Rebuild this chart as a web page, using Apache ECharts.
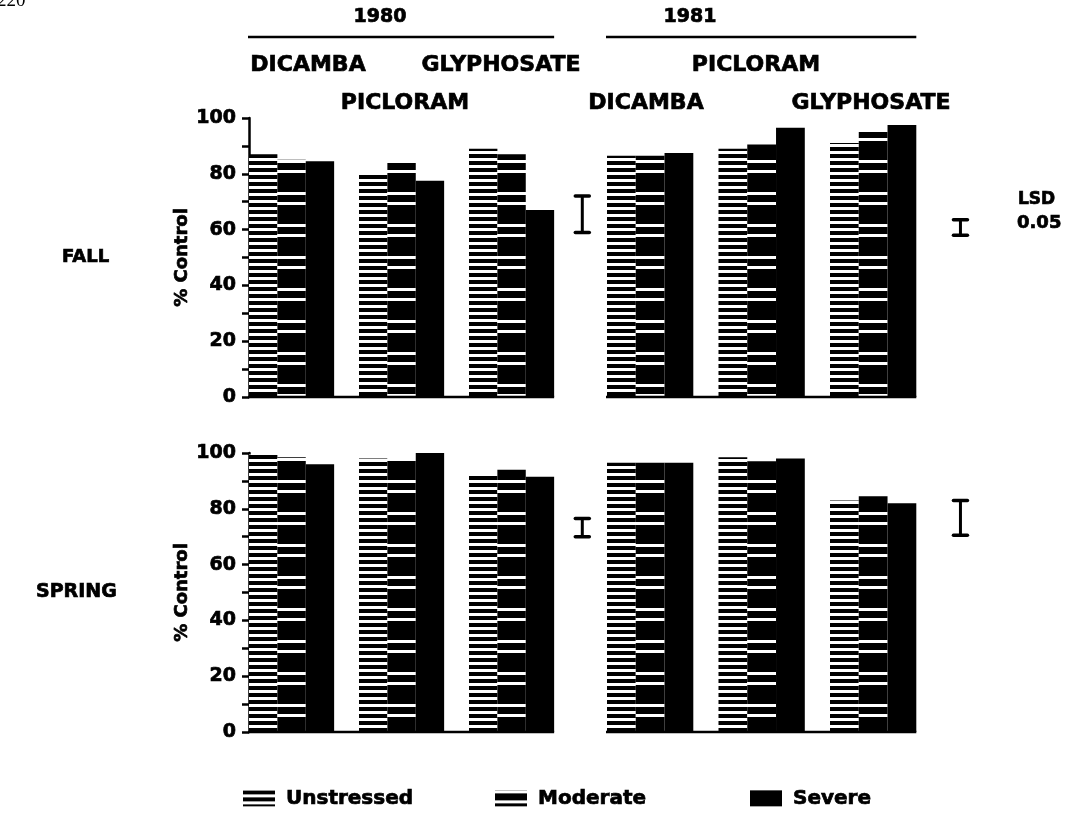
<!DOCTYPE html>
<html>
<head>
<meta charset="utf-8">
<script src="https://cdn.jsdelivr.net/npm/echarts@6/dist/echarts.min.js"></script>
<style>
  html, body { margin: 0; padding: 0; background: #fff; }
  #chart { width: 1065px; height: 820px; }
</style>
</head>
<body>
<div id="chart"></div>
<script>
// ---- Data -------------------------------------------------------------
const herbicides = ['DICAMBA', 'PICLORAM', 'GLYPHOSATE'];
const years = ['1980', '1981'];
const seasons = ['FALL', 'SPRING'];
const treatments = ['Unstressed', 'Moderate', 'Severe'];
const yTicks = [0, 10, 20, 30, 40, 50, 60, 70, 80, 90, 100];

// % Control, ordered as in `herbicides`
const fall1980Unstressed = [87, 80, 89];
const fall1980Moderate   = [85, 84, 87];
const fall1980Severe     = [84.5, 77.5, 67];
const fall1981Unstressed = [86.5, 89, 91];
const fall1981Moderate   = [86.5, 90.5, 95];
const fall1981Severe     = [87.5, 96.5, 97.5];

const spring1980Unstressed = [99.5, 98, 92.5];
const spring1980Moderate   = [98.5, 98, 94];
const spring1980Severe     = [96, 100, 91.5];
const spring1981Unstressed = [96.5, 98.5, 83];
const spring1981Moderate   = [96.5, 97, 84.5];
const spring1981Severe     = [96.5, 98, 82];

// LSD (0.05) interval drawn beside each year block: [low, high]
const lsdFall   = [[59, 72], [58, 63.5]];
const lsdSpring = [[70, 76.5], [70.5, 83]];

// ---- Layout -----------------------------------------------------------
const FONT = '"DejaVu Sans", "Liberation Sans", Arial, sans-serif';
const HEAVY = 0.7;              // outline width that thickens the bold face
const BAR_W = 0.258;            // bar width in herbicide-slot units
const X_MAX = 3.3;
const yearLeft = [249, 607];
const yearUnitPx = [110, 111.5];
const yearLsdX = [3.03, 3.17];
const seasonTop = [118, 453];
const PLOT_H = 279;

const values = {
  FALL:   [[fall1980Unstressed, fall1980Moderate, fall1980Severe],
           [fall1981Unstressed, fall1981Moderate, fall1981Severe]],
  SPRING: [[spring1980Unstressed, spring1980Moderate, spring1980Severe],
           [spring1981Unstressed, spring1981Moderate, spring1981Severe]]
};
const lsd = { FALL: lsdFall, SPRING: lsdSpring };

// ---- Fill patterns ----------------------------------------------------
function stripePattern(bg, fg, period, bands) {
  const c = document.createElement('canvas');
  c.width = 8; c.height = period;
  const ctx = c.getContext('2d');
  ctx.fillStyle = bg; ctx.fillRect(0, 0, 8, period);
  ctx.fillStyle = fg;
  bands.forEach(([y, h]) => ctx.fillRect(0, y, 8, h));
  return { image: c, repeat: 'repeat' };
}
const patterns = [
  stripePattern('#fff', '#000', 7, [[0, 4]]),            // Unstressed
  stripePattern('#000', '#fff', 32, [[0, 3], [10, 3]]),  // Moderate
  '#000'                                                 // Severe
];

const heavyText = (size) => ({
  fontFamily: FONT, fontWeight: 'bold', fontSize: size, color: '#000',
  textBorderColor: '#000', textBorderWidth: HEAVY
});

// ---- Build grids, axes, series ---------------------------------------
const grid = [], xAxis = [], yAxis = [], series = [];
seasons.forEach((season, si) => {
  years.forEach((year, yi) => {
    const idx = grid.length;
    grid.push({
      left: yearLeft[yi], top: seasonTop[si],
      width: X_MAX * yearUnitPx[yi], height: PLOT_H
    });
    xAxis.push({ gridIndex: idx, type: 'value', min: 0, max: X_MAX, show: false });
    if (yi === 0) {
      yAxis.push({
        gridIndex: idx, type: 'value', min: 0, max: 100, interval: 10,
        axisLine: { show: true, lineStyle: { color: '#000', width: 2.5 } },
        axisTick: { show: true, length: 7, lineStyle: { color: '#000', width: 2.5 } },
        axisLabel: Object.assign({
          formatter: v => (v % 20 === 0 ? String(v) : ''), margin: 13
        }, heavyText(19)),
        splitLine: { show: false },
        name: '% Control', nameLocation: 'middle', nameGap: 54,
        nameTextStyle: heavyText(18)
      });
    } else {
      yAxis.push({ gridIndex: idx, type: 'value', min: 0, max: 100, show: false });
    }

    treatments.forEach((t, k) => {
      series.push({
        type: 'custom', name: t, xAxisIndex: idx, yAxisIndex: idx,
        itemStyle: { color: patterns[k] },
        data: herbicides.map((h, i) => [i, values[season][yi][k][i]]),
        encode: { x: 0, y: 1 },
        renderItem: (params, api) => {
          const i = api.value(0), v = api.value(1);
          const p0 = api.coord([i + k * BAR_W, v]);
          const p1 = api.coord([i + (k + 1) * BAR_W, 0]);
          return {
            type: 'rect',
            shape: { x: p0[0], y: p0[1], width: p1[0] - p0[0], height: p1[1] - p0[1] },
            style: { fill: patterns[k] }
          };
        },
        z: 2 + k
      });
    });

    // baseline under each year block
    series.push({
      type: 'custom', xAxisIndex: idx, yAxisIndex: idx, silent: true,
      data: [[0, 0]],
      renderItem: (params, api) => {
        const a = api.coord([0, 0]);
        const b = api.coord([herbicides.length - 1 + 3 * BAR_W, 0]);
        return { type: 'line', shape: { x1: a[0] - 1, y1: a[1], x2: b[0], y2: b[1] },
                 style: { stroke: '#000', lineWidth: 2.5 } };
      },
      z: 6
    });

    // LSD bar
    series.push({
      type: 'custom', xAxisIndex: idx, yAxisIndex: idx, silent: true,
      data: [[yearLsdX[yi], lsd[season][yi][0], lsd[season][yi][1]]],
      encode: { x: 0, y: [1, 2] },
      renderItem: (params, api) => {
        const top = api.coord([api.value(0), api.value(2)]);
        const bot = api.coord([api.value(0), api.value(1)]);
        const cap = 7;
        const st = { stroke: '#000', lineWidth: 3.5, lineCap: 'round' };
        return {
          type: 'group', children: [
            { type: 'line', shape: { x1: top[0], y1: top[1], x2: bot[0], y2: bot[1] },
              style: { stroke: '#000', lineWidth: 3 } },
            { type: 'line', shape: { x1: top[0] - cap, y1: top[1], x2: top[0] + cap, y2: top[1] }, style: st },
            { type: 'line', shape: { x1: bot[0] - cap, y1: bot[1], x2: bot[0] + cap, y2: bot[1] }, style: st }
          ]
        };
      },
      z: 6
    });
  });
});

// ---- Text and rules around the plot ----------------------------------
const boldText = (text, x, y, size, align) => ({
  type: 'text', x, y,
  style: { text, fill: '#000', stroke: '#000', lineWidth: HEAVY,
           font: `bold ${size}px ${FONT}`,
           textAlign: align || 'center', textVerticalAlign: 'middle' }
});

const headerX = [380, 690];
const herbLabelX = [[308, 405, 501], [646, 756, 871]];
const herbLabelRow = [[65, 103, 65], [103, 65, 103]];
const graphic = [];
years.forEach((yr, yi) => {
  graphic.push(boldText(yr, headerX[yi], 17, 19));
  const x1 = yearLeft[yi] - 1;
  const x2 = yearLeft[yi] + (herbicides.length - 1 + 3 * BAR_W) * yearUnitPx[yi];
  graphic.push({ type: 'line', shape: { x1, y1: 37, x2, y2: 37 },
                 style: { stroke: '#000', lineWidth: 2.5 } });
  herbicides.forEach((h, i) => {
    graphic.push(boldText(h, herbLabelX[yi][i], herbLabelRow[yi][i], 22));
  });
});
graphic.push(boldText(seasons[0], 62, 257, 18, 'left'));
graphic.push(boldText(seasons[1], 36, 592, 19, 'left'));
graphic.push(boldText('LSD', 1018, 200, 17, 'left'));
graphic.push(boldText('0.05', 1017, 223, 18, 'left'));
graphic.push({ type: 'text', x: -3, y: -8,
  style: { text: '220', fill: '#000', font: '19px "Liberation Serif", serif' } });

const legendBase = {
  icon: 'rect', itemWidth: 32, itemHeight: 16, top: 783,
  textStyle: Object.assign({ padding: [0, 0, 0, 6] }, heavyText(20)),
  selectedMode: false
};
const legendLeft = [238, 490, 745];

const chart = echarts.init(document.getElementById('chart'), null, { renderer: 'canvas' });
chart.setOption({
  animation: false,
  backgroundColor: '#fff',
  grid, xAxis, yAxis, series, graphic,
  legend: treatments.map((t, k) => Object.assign({}, legendBase, { left: legendLeft[k], data: [t] })),
  tooltip: { show: false }
});
</script>
</body>
</html>
